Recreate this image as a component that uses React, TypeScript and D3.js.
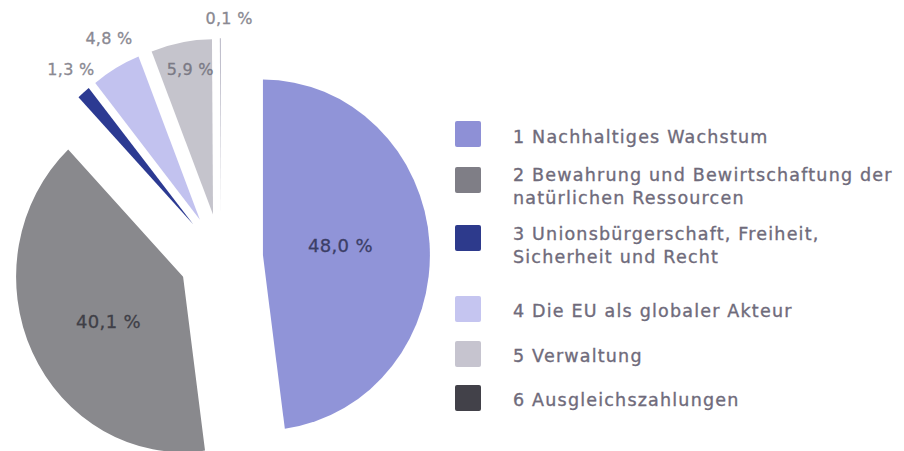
import React from "react";
import * as d3 from "d3";

// ---- data ----
const categories = [
  "1 Nachhaltiges Wachstum",
  "2 Bewahrung und Bewirtschaftung der natürlichen Ressourcen",
  "3 Unionsbürgerschaft, Freiheit, Sicherheit und Recht",
  "4 Die EU als globaler Akteur",
  "5 Verwaltung",
  "6 Ausgleichszahlungen",
];
const legendLines = [
  ["1 Nachhaltiges Wachstum"],
  ["2 Bewahrung und Bewirtschaftung der", "natürlichen Ressourcen"],
  ["3 Unionsbürgerschaft, Freiheit,", "Sicherheit und Recht"],
  ["4 Die EU als globaler Akteur"],
  ["5 Verwaltung"],
  ["6 Ausgleichszahlungen"],
];
const values = [48.0, 40.1, 1.3, 4.8, 5.9, 0.1];
const valueLabels = ["48,0 %", "40,1 %", "1,3 %", "4,8 %", "5,9 %", "0,1 %"];

// ---- styles / layout ----
const sliceColors = ["#9094d8", "#89898d", "#2c3a92", "#c2c2ef", "#c5c4cc", "#b9b8c6"];
const legendColors = ["#8e90d6", "#7f7e86", "#2d3a8c", "#c5c5f0", "#c6c4cf", "#424149"];
const labelColors = ["#3b3e66", "#3f3f47", "#8a8992", "#8a8992", "#7b7a85", "#8a8992"];
const labelSizes = [18, 18, 16, 16, 16, 16];
// [radius, angle nudge in degrees] for each value label
const labelPlacement: [number, number][] = [
  [78, -2.5],
  [86, -4.3],
  [192, 1.5],
  [195, 2.4],
  [140, 1.6],
  [186, 2.7],
];
const legendTop = [121, 167, 225, 296, 341, 385];
const legendFirstBaseline = [22, 14, 15, 21, 21, 21];

const W = 904;
const H = 451;
const CX = 221;
const CY = 257.8;
const R = 167;
const SY = 1.05;
const EXPLODE = 42;

export default function App() {
  const pie = d3
    .pie<number>()
    .sort(null)
    .value((d) => d)
    .startAngle(0)
    .endAngle(2 * Math.PI);
  const arcs = pie(values);
  const arc = d3.arc<d3.PieArcDatum<number>>().innerRadius(0).outerRadius(R);

  const font = "'DejaVu Sans', sans-serif";

  return (
    <svg
      width={W}
      height={H}
      style={{ position: "fixed", left: 0, top: 0, background: "#fff" }}
    >
      <rect width={W} height={H} fill="#fff" />
      <g transform={`translate(${CX},${CY}) scale(1,${SY})`}>
        {arcs.map((a, i) => {
          const mid = (a.startAngle + a.endAngle) / 2;
          const dx = EXPLODE * Math.sin(mid);
          const dy = -EXPLODE * Math.cos(mid);
          return (
            <path
              key={categories[i]}
              d={arc(a) || ""}
              transform={`translate(${dx},${dy})`}
              fill={sliceColors[i]}
            />
          );
        })}
      </g>
      <g fontFamily={font}>
        {arcs.map((a, i) => {
          const mid = (a.startAngle + a.endAngle) / 2;
          const [lr, nudge] = labelPlacement[i];
          const ang = mid + (nudge * Math.PI) / 180;
          const x = CX + EXPLODE * Math.sin(mid) + lr * Math.sin(ang);
          const y = CY + SY * (-EXPLODE * Math.cos(mid) - lr * Math.cos(ang));
          return (
            <text
              key={valueLabels[i]}
              x={x}
              y={y + labelSizes[i] * 0.36}
              textAnchor="middle"
              fontSize={labelSizes[i]}
              fill={labelColors[i]}
              stroke={labelColors[i]}
              strokeWidth={0.3}
              letterSpacing={0.3}
            >
              {valueLabels[i]}
            </text>
          );
        })}
      </g>
      <g fontFamily={font} fontSize={17.5} fill="#6f6b7b" letterSpacing={1.2}>
        {legendLines.map((lines, i) => (
          <g key={categories[i]}>
            <rect
              x={455}
              y={legendTop[i]}
              width={26}
              height={26}
              rx={2}
              fill={legendColors[i]}
            />
            {lines.map((ln, j) => (
              <text
                key={ln}
                x={513}
                y={legendTop[i] + legendFirstBaseline[i] + j * 23}
                stroke="#6f6b7b"
                strokeWidth={0.35}
              >
                {ln}
              </text>
            ))}
          </g>
        ))}
      </g>
    </svg>
  );
}
